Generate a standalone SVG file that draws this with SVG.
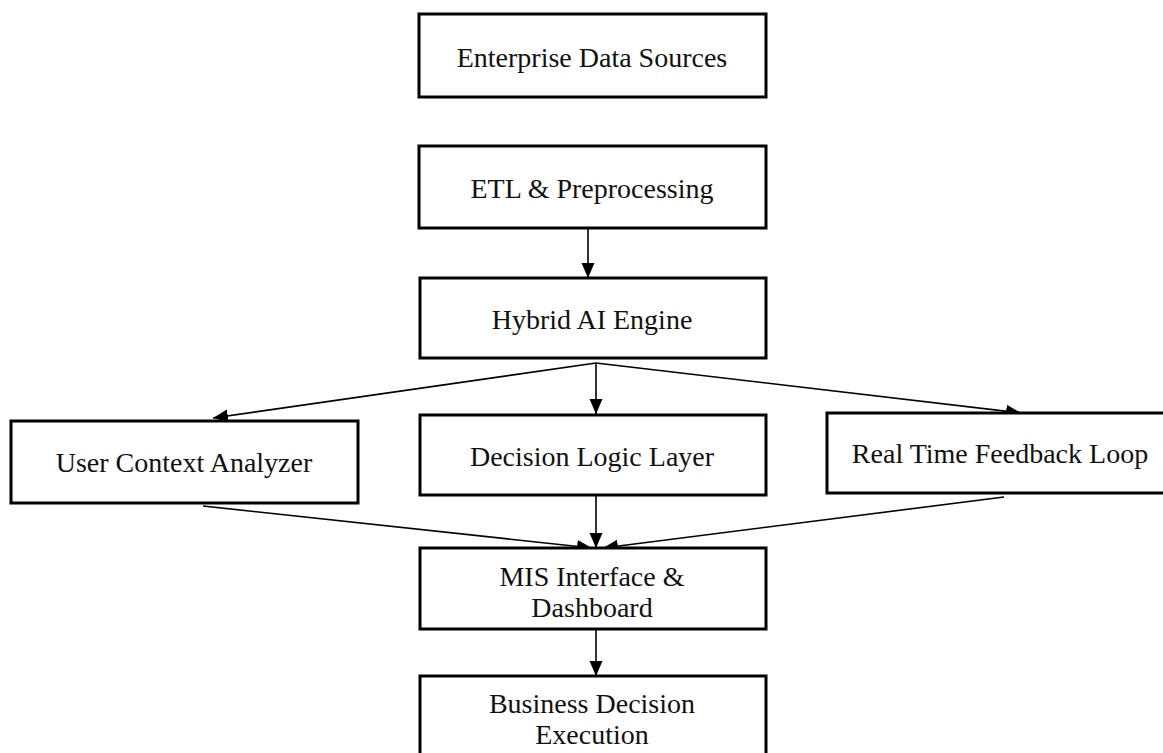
<svg xmlns="http://www.w3.org/2000/svg" width="1163" height="753" viewBox="0 0 1163 753">
  <style>
    .box { fill: #ffffff; stroke: #000000; stroke-width: 3; }
    .label { font-family: "Liberation Serif", "Times New Roman", serif; font-size: 28px; fill: #111111; text-anchor: middle; }
    .edge { stroke: #000000; stroke-width: 1.6; fill: none; marker-end: url(#arrow); }
  </style>
  <defs>
    <marker id="arrow" markerUnits="userSpaceOnUse" markerWidth="16" markerHeight="14" refX="15" refY="7" orient="auto">
      <path d="M0,0.5 L15,7 L0,13.5 Z" fill="#000000"/>
    </marker>
  </defs>
  <rect width="1163" height="753" fill="#ffffff"/>

  <g id="connectors">
    <line class="edge" x1="588" y1="229" x2="588" y2="278"/>
    <line class="edge" x1="596" y1="363" x2="596" y2="414"/>
    <line class="edge" x1="596" y1="363" x2="213" y2="418"/>
    <line class="edge" x1="596" y1="363" x2="1021" y2="413"/>
    <line class="edge" x1="203" y1="506" x2="592" y2="548"/>
    <line class="edge" x1="596" y1="496" x2="596" y2="548"/>
    <line class="edge" x1="1004" y1="497" x2="603" y2="548"/>
    <line class="edge" x1="596" y1="630" x2="596" y2="676"/>
  </g>

  <g id="enterprise-data-sources">
    <rect class="box" x="419" y="14" width="347" height="83"/>
    <text class="label" x="592" y="67">Enterprise Data Sources</text>
  </g>

  <g id="etl-preprocessing">
    <rect class="box" x="419" y="146" width="347" height="82"/>
    <text class="label" x="592" y="198">ETL &amp; Preprocessing</text>
  </g>

  <g id="hybrid-ai-engine">
    <rect class="box" x="420" y="278" width="346" height="80"/>
    <text class="label" x="592" y="329">Hybrid AI Engine</text>
  </g>

  <g id="user-context-analyzer">
    <rect class="box" x="11" y="421" width="347" height="82"/>
    <text class="label" x="184" y="472">User Context Analyzer</text>
  </g>

  <g id="decision-logic-layer">
    <rect class="box" x="420" y="415" width="346" height="80"/>
    <text class="label" x="592" y="466">Decision Logic Layer</text>
  </g>

  <g id="real-time-feedback-loop">
    <rect class="box" x="827" y="413" width="346" height="80"/>
    <text class="label" x="1000" y="463">Real Time Feedback Loop</text>
  </g>

  <g id="mis-interface-dashboard">
    <rect class="box" x="420" y="548" width="346" height="81"/>
    <text class="label" x="592" y="586">MIS Interface &amp;</text>
    <text class="label" x="592" y="617">Dashboard</text>
  </g>

  <g id="business-decision-execution">
    <rect class="box" x="420" y="676" width="346" height="90"/>
    <text class="label" x="592" y="713">Business Decision</text>
    <text class="label" x="592" y="744">Execution</text>
  </g>
</svg>
